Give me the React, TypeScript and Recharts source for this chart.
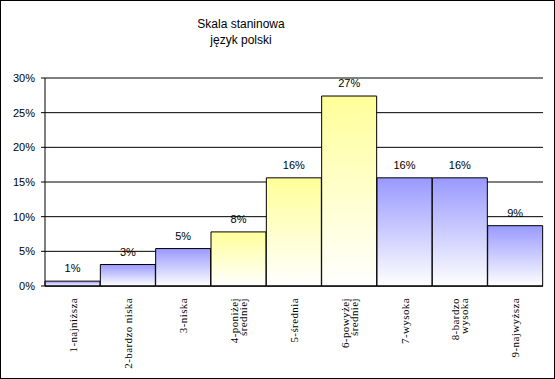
import { BarChart, Bar, XAxis, YAxis, CartesianGrid, Cell, LabelList } from "recharts";

const categories = [
  "1-najniższa",
  "2-bardzo niska",
  "3-niska",
  "4-poniżej\nśredniej",
  "5-średnia",
  "6-powyżej\nśredniej",
  "7-wysoka",
  "8-bardzo\nwysoka",
  "9-najwyższa",
];
const percents = [0.7, 3.1, 5.4, 7.8, 15.6, 27.4, 15.6, 15.6, 8.7];
// which stanines sit in the middle band (drawn yellow)
const middleBand = [false, false, false, true, true, true, false, false, false];
const yTicks = [0, 5, 10, 15, 20, 25, 30];
const boundaries = [0, 1, 2, 3, 4, 5, 6, 7, 8, 9];

const data = categories.map((name, i) => ({ name, value: percents[i] }));

const CategoryTick = (props: any) => {
  const { x, y, payload } = props;
  const lines = String(payload.value).split("\n");
  const shift = (lines.length - 1) * 4.5;
  return (
    <g transform={`translate(${x - shift},${y + 4})`}>
      <text
        transform="rotate(-90)"
        textAnchor="end"
        fontFamily="Liberation Serif"
        fontSize={11}
        letterSpacing={0.4}
        fill="#000"
      >
        {lines.map((l, i) => (
          <tspan key={i} x={0} dy={i === 0 ? "0.35em" : 9}>
            {l}
          </tspan>
        ))}
      </text>
    </g>
  );
};

export default function App() {
  return (
    <div
      style={{
        position: "absolute",
        left: 0,
        top: 0,
        width: 555,
        height: 379,
        border: "1px solid #000",
        boxSizing: "border-box",
        background: "#fff",
        fontFamily: "Liberation Sans",
      }}
    >
      <div
        style={{
          position: "absolute",
          left: 140,
          width: 200,
          top: 15,
          textAlign: "center",
          fontSize: 12,
          lineHeight: "16px",
          color: "#000",
        }}
      >
        Skala staninowa
        <br />
        język polski
      </div>
      <BarChart
        width={553}
        height={377}
        data={data}
        margin={{ top: 77, right: 11, bottom: 0, left: 0 }}
        barCategoryGap={0}
      >
        <defs>
          <linearGradient id="blueGrad" x1="0" y1="0" x2="0" y2="1">
            <stop offset="0%" stopColor="#9999FF" />
            <stop offset="100%" stopColor="#FFFFFF" />
          </linearGradient>
          <linearGradient id="yellowGrad" x1="0" y1="0" x2="0" y2="1">
            <stop offset="0%" stopColor="#FFFF99" />
            <stop offset="100%" stopColor="#FFFFFF" />
          </linearGradient>
        </defs>
        <CartesianGrid vertical={false} stroke="#000" strokeWidth={1} />
        <XAxis
          xAxisId="edges"
          type="number"
          domain={[0, 9]}
          ticks={boundaries}
          interval={0}
          axisLine={false}
          tick={false}
          tickSize={4}
          tickLine={{ stroke: "#000" }}
          height={0}
        />
        <XAxis
          xAxisId="cat"
          dataKey="name"
          interval={0}
          height={92}
          axisLine={{ stroke: "#000" }}
          tickLine={false}
          tick={<CategoryTick />}
        />
        <YAxis
          width={44}
          domain={[0, 30]}
          ticks={yTicks}
          interval={0}
          tickFormatter={(v: number) => `${v}%`}
          axisLine={{ stroke: "#000" }}
          tickLine={{ stroke: "#000" }}
          tickSize={4}
          tickMargin={6}
          tick={{ fill: "#000", fontSize: 11, fontFamily: "Liberation Sans" }}
        />
        <Bar xAxisId="cat" dataKey="value" stroke="#000" strokeWidth={1} isAnimationActive={false}>
          {data.map((d, i) => (
            <Cell key={d.name} fill={middleBand[i] ? "url(#yellowGrad)" : "url(#blueGrad)"} />
          ))}
          <LabelList
            dataKey="value"
            position="top"
            offset={9}
            formatter={(v: any) => `${Math.round(Number(v))}%`}
            fill="#000"
            fontSize={11}
            fontFamily="Liberation Sans"
          />
        </Bar>
      </BarChart>
    </div>
  );
}
